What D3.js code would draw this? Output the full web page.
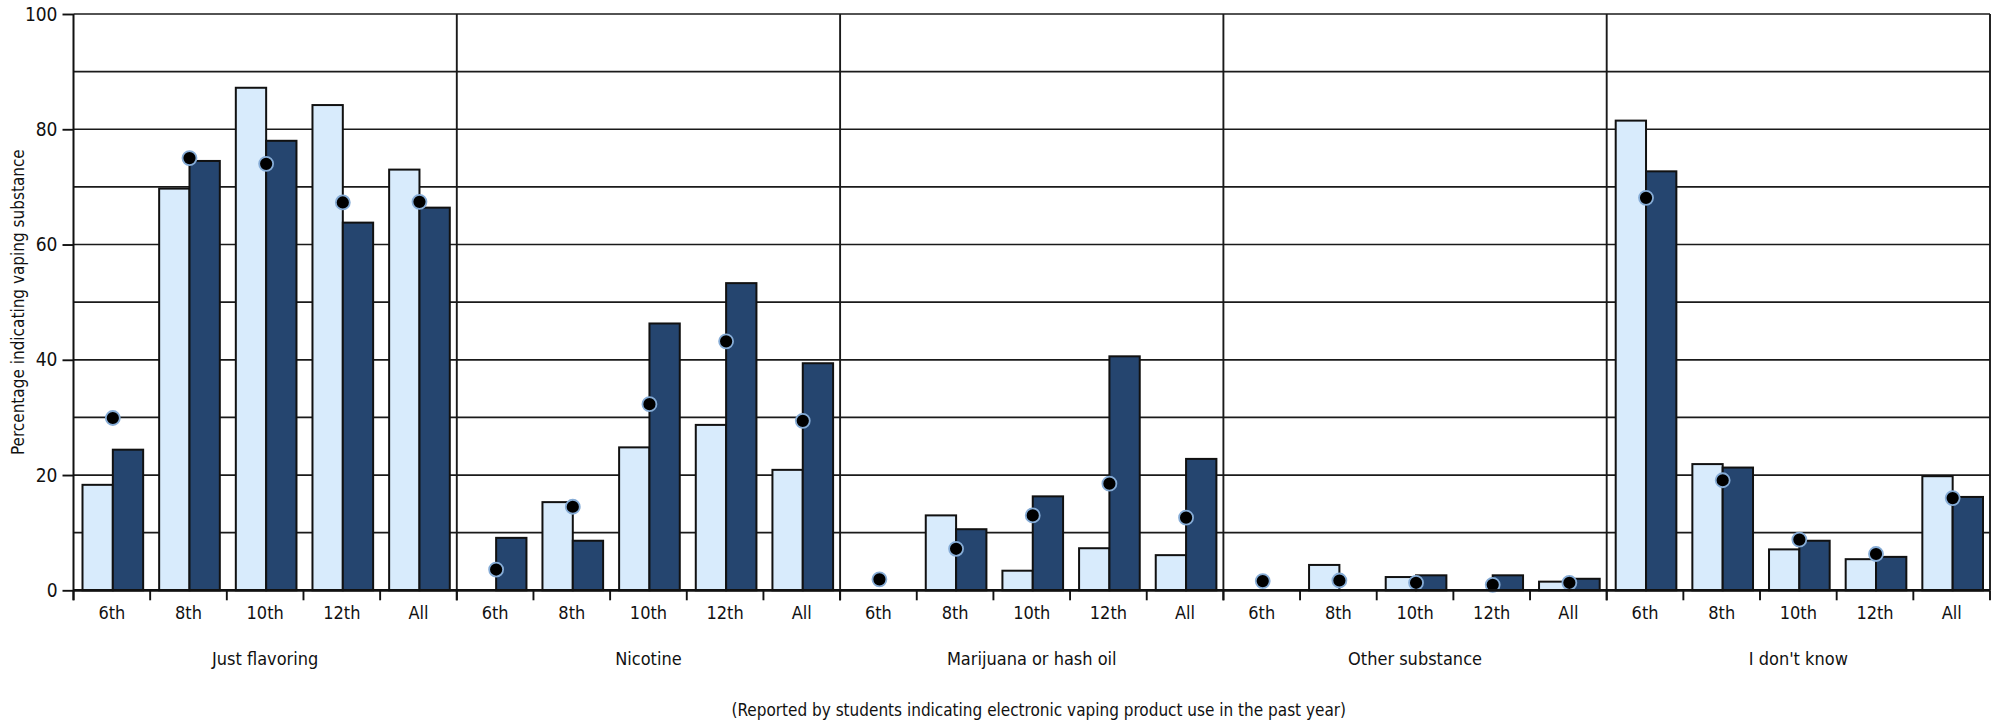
<!DOCTYPE html>
<html><head><meta charset="utf-8">
<script src="https://cdn.jsdelivr.net/npm/d3@7"></script>
<style>
body{margin:0;background:#fff;}
text{font-family:"Liberation Sans Narrow","DejaVu Sans Condensed","Arial Narrow",sans-serif;fill:#111;}
</style></head>
<body>
<svg id="chart" width="1999" height="723"></svg>
<script>
const categories = ["Just flavoring","Nicotine","Marijuana or hash oil","Other substance","I don't know"];
const grades = ["6th","8th","10th","12th","All"];
// light-blue bars
const seriesLight = [
  [18.3, 69.7, 87.2, 84.2, 73.0],
  [0, 15.3, 24.8, 28.7, 20.9],
  [0, 13.0, 3.4, 7.3, 6.1],
  [0, 4.4, 2.3, 0, 1.5],
  [81.5, 21.9, 7.1, 5.4, 19.8]
];
// dark-blue bars
const seriesDark = [
  [24.4, 74.5, 78.0, 63.8, 66.4],
  [9.1, 8.6, 46.3, 53.3, 39.4],
  [0, 10.6, 16.3, 40.6, 22.8],
  [0, 0, 2.6, 2.6, 2.0],
  [72.7, 21.3, 8.6, 5.8, 16.2]
];
// dots
const seriesDots = [
  [29.9, 75.0, 74.0, 67.3, 67.4],
  [3.6, 14.5, 32.3, 43.2, 29.4],
  [1.9, 7.2, 13.0, 18.5, 12.6],
  [1.6, 1.7, 1.3, 0.95, 1.3],
  [68.1, 19.1, 8.8, 6.3, 16.0]
];
const yTicks = [0, 20, 40, 60, 80, 100];
const gridValues = [10, 20, 30, 40, 50, 60, 70, 80, 90, 100];

const FONT = '"Liberation Sans Narrow","DejaVu Sans Condensed",sans-serif';
const svg = d3.select("#chart");
const L = 73.5, R = 1990, T = 14, B = 590.3;

const y = d3.scaleLinear().domain([0, 100]).range([B, T]);
const xCat = d3.scaleBand().domain(categories).range([L, R]).padding(0);
const xGrade = d3.scaleBand().domain(grades).range([0, xCat.bandwidth()]).padding(0);
const bw = xGrade.bandwidth();
const xSub = d3.scaleBand().domain(["light", "dark"]).range([9, bw - 7]).padding(0);

// gridlines
svg.append("g").selectAll("line").data(gridValues).join("line")
  .attr("x1", L).attr("x2", R).attr("y1", d => y(d)).attr("y2", d => y(d))
  .attr("stroke", "#1a1a1a").attr("stroke-width", 1.7);

// panel dividers
svg.append("g").selectAll("line").data(categories.slice(1).concat(["__end"])).join("line")
  .attr("x1", d => d === "__end" ? R : xCat(d)).attr("x2", d => d === "__end" ? R : xCat(d))
  .attr("y1", T).attr("y2", B)
  .attr("stroke", "#1a1a1a").attr("stroke-width", 1.9);

const rows = [];
categories.forEach((c, i) => grades.forEach((g, j) => rows.push({c, g, light: seriesLight[i][j], dark: seriesDark[i][j], dot: seriesDots[i][j]})));

const bars = svg.append("g");
rows.forEach(r => {
  const x0 = xCat(r.c) + xGrade(r.g);
  [["light", r.light, "#d8ebfc"], ["dark", r.dark, "#25456f"]].forEach(([k, v, col]) => {
    if (v <= 0) return;
    bars.append("rect")
      .attr("x", x0 + xSub(k)).attr("width", xSub.bandwidth())
      .attr("y", y(v)).attr("height", y(0) - y(v))
      .attr("fill", col).attr("stroke", "#111").attr("stroke-width", 2);
  });
});

// dots
svg.append("g").selectAll("circle").data(rows).join("circle")
  .attr("cx", d => xCat(d.c) + xGrade(d.g) + xSub("dark"))
  .attr("cy", d => y(d.dot))
  .attr("r", 7)
  .attr("fill", "#000").attr("stroke", "#86acd6").attr("stroke-width", 1.8);

// y axis
const yAxis = d3.axisLeft(y).tickValues(yTicks).tickSize(11).tickPadding(5);
const ya = svg.append("g").attr("transform", `translate(${L},0)`).call(yAxis);
ya.select(".domain").attr("stroke", "#111").attr("stroke-width", 2).attr("d", `M0,${T}V${B + 10}`);
ya.selectAll(".tick line").attr("stroke", "#111").attr("stroke-width", 1.9);
ya.selectAll(".tick text").attr("font-size", 19).style("font-family", FONT).attr("fill", "#111");

// baseline
svg.append("line").attr("x1", L).attr("x2", R).attr("y1", B).attr("y2", B)
  .attr("stroke", "#111").attr("stroke-width", 2.8);

// x axes per category
categories.forEach(c => {
  const xa = d3.scaleBand().domain(grades).range([xCat(c), xCat(c) + xCat.bandwidth()]);
  const g = svg.append("g").attr("transform", `translate(0,${B})`)
    .call(d3.axisBottom(xa).tickSize(0).tickPadding(16));
  g.select(".domain").remove();
  g.selectAll(".tick text").attr("font-size", 18).attr("fill", "#111")
    .style("font-family", FONT);
  const bounds = grades.map(gr => xa(gr)).concat([xCat(c) + xCat.bandwidth()]);
  svg.append("g").selectAll("line").data(bounds).join("line")
    .attr("x1", d => d).attr("x2", d => d).attr("y1", B).attr("y2", B + 10)
    .attr("stroke", "#111").attr("stroke-width", 1.9);
  svg.append("text").attr("x", xCat(c) + xCat.bandwidth() / 2).attr("y", 665)
    .attr("text-anchor", "middle").attr("font-size", 18).text(c);
});

// axis titles
svg.append("text").attr("transform", `translate(24,${(T + B) / 2}) rotate(-90)`)
  .attr("text-anchor", "middle").attr("font-size", 17).text("Percentage indicating vaping substance");
svg.append("text").attr("x", (L + R) / 2 + 7).attr("y", 716)
  .attr("text-anchor", "middle").attr("font-size", 17)
  .text("(Reported by students indicating electronic vaping product use in the past year)");
</script>
</body></html>
